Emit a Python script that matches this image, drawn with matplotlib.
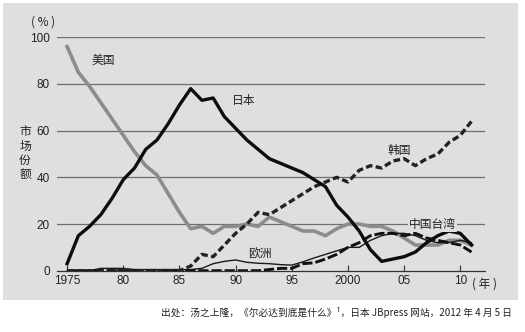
import matplotlib
matplotlib.use("Agg")
import matplotlib.pyplot as plt
from matplotlib.patches import Rectangle

plt.rcParams['font.family'] = ['Noto Sans CJK SC', 'DejaVu Sans']

# 半导体 DRAM 市场份额（%），1975-2011
years = list(range(1975, 2012))
japan = [3, 15, 19, 24, 31, 39, 44, 52, 56, 63, 71, 78, 73, 74, 66, 61, 56, 52, 48,
         46, 44, 42, 39, 36, 28, 23, 17, 9, 4, 5, 6, 8, 12, 15, 17, 16, 11]
usa = [96, 85, 79, 72, 65, 58, 51, 45, 41, 33, 25, 18, 19, 16, 19, 19, 20, 19, 23,
       21, 19, 17, 17, 15, 18, 20, 20, 19, 19, 17, 14, 11, 11, 11, 13, 13, 11]
korea = [0, 0, 0, 0, 0, 0, 0, 0, 0, 0, 0, 2, 7, 6, 11, 16, 20, 25, 24,
         27, 30, 33, 36, 38, 40, 38, 43, 45, 44, 47, 48, 45, 48, 50, 55, 58, 64]
taiwan = [0, 0, 0, 0, 0, 0, 0, 0, 0, 0, 0, 0, 0, 0, 0, 0, 0, 0, 0.5,
          1, 1, 3, 3.4, 5, 7, 10, 12, 15, 16, 16, 15, 16, 14, 13, 12, 11, 8]
europe = [0, 0, 0, 1, 1, 1, 0.5, 0.5, 0.5, 0.5, 0.5, 0.5, 1, 3, 4, 4.6, 3.6, 3.2, 3,
          2.6, 2.4, 3.8, 5.5, 7, 8.5, 10, 10, 13, 15, 16, 16, 15, 13, 12, 12, 13, 12]

xticks = [1975, 1980, 1985, 1990, 1995, 2000, 2005, 2010]
xticklabels = ['1975', '80', '85', '90', '95', '2000', '05', '10']
yticks = [0, 20, 40, 60, 80, 100]

fig = plt.figure(figsize=(5.25, 3.32), dpi=100)

# 灰色底板
fig.patches.append(Rectangle((3 / 525, 1 - 300 / 332), 515 / 525, 297 / 332,
                             transform=fig.transFigure, facecolor='#dfdfdf',
                             edgecolor='none', zorder=-10))

ax = fig.add_axes([57 / 525, 1 - 270.7 / 332, 428 / 525, 233.4 / 332])
ax.set_facecolor('none')

for y in yticks[1:]:
    ax.axhline(y, color='#6e6e6e', lw=0.9, zorder=1)

ax.plot(years, europe, color='#1a1a1a', lw=1.0, zorder=3)
ax.plot(years, taiwan, color='#111111', lw=2.1, dashes=(3.5, 1), zorder=3)
ax.plot(years, usa, color='#8c8c8c', lw=2.6, zorder=2)
ax.plot(years, korea, color='#222222', lw=2.4, dashes=(2, 1), zorder=3)
ax.plot(years, japan, color='#0d0d0d', lw=2.4, zorder=4)

ax.set_xlim(1974.1, 2012.2)
ax.set_ylim(0, 100)
ax.set_xticks(xticks)
ax.set_xticklabels(xticklabels, family='Liberation Sans')
ax.set_yticks(yticks)
ax.set_yticklabels([str(v) for v in yticks], family='Liberation Sans')
ax.tick_params(axis='x', direction='in', length=4, width=0.8, color='#333333',
               labelsize=8.5, pad=3, labelcolor='#222222')
ax.tick_params(axis='y', length=0, labelsize=8.5, pad=5, labelcolor='#222222')

for side in ['top', 'right', 'left']:
    ax.spines[side].set_visible(False)
ax.spines['bottom'].set_color('#333333')
ax.spines['bottom'].set_linewidth(0.9)

lab = dict(fontsize=8.5, color='#222222')
ax.text(1977.2, 90, '美国', ha='left', va='center', **lab)
ax.text(1989.7, 73, '日本', ha='left', va='center', **lab)
ax.text(2004.6, 51.5, '韩国', ha='center', va='center', **lab)
ax.text(1992.2, 7, '欧洲', ha='center', va='center', **lab)
ax.text(2007.5, 19.7, '中国台湾', ha='center', va='center', zorder=5,
        bbox=dict(facecolor='#dfdfdf', edgecolor='none', pad=0.6), **lab)

ax.text(2011.0, -5.6, '( 年 )', ha='left', va='center', fontsize=8.5,
        color='#222222', clip_on=False)
fig.text(43 / 525, 1 - 22 / 332, '( % )', ha='center', va='center',
         fontsize=8.5, color='#222222')
fig.text(25 / 525, 1 - 153 / 332, '市\n场\n份\n额', ha='center', va='center',
         fontsize=8.5, color='#222222', linespacing=1.1)

fig.text(512 / 525, 1 - 312 / 332,
         '出处：汤之上隆，《尔必达到底是什么》¹，日本 JBpress 网站，2012 年 4 月 5 日',
         ha='right', va='center', fontsize=7, color='#222222',
         family=['Noto Sans CJK SC', 'DejaVu Sans'])

fig.savefig('out.png', dpi=100)
